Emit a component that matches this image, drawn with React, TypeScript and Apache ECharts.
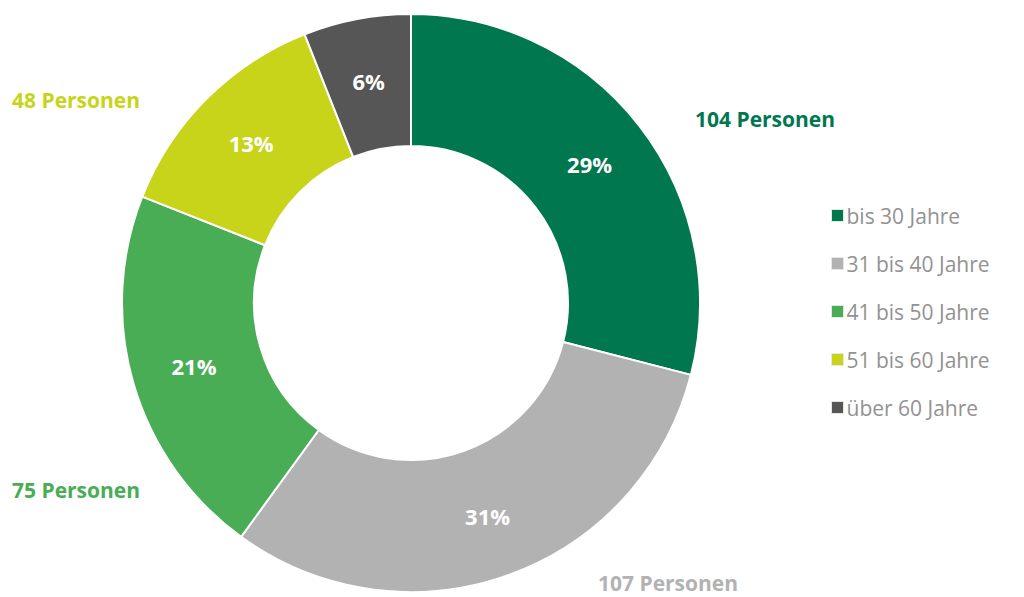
import React, { useEffect, useRef } from "react";
import * as echarts from "echarts";

const categories = ["bis 30 Jahre", "31 bis 40 Jahre", "41 bis 50 Jahre", "51 bis 60 Jahre", "über 60 Jahre"];
const percentValues = [29, 31, 21, 13, 6];
const personCounts = [104, 107, 75, 48, null];
const colors = ["#00774f", "#b2b2b2", "#48ad55", "#c8d41a", "#575656"];
const outsideLabelPos: ([number, number] | null)[] = [
  [695, 119],
  [598, 583],
  [12, 490],
  [12, 100],
  null,
];

export default function App() {
  const ref = useRef<HTMLDivElement>(null);
  useEffect(() => {
    if (!ref.current) return;
    const chart = echarts.init(ref.current, undefined, { renderer: "svg" });
    const font = "'Open Sans', 'Noto Sans', sans-serif";
    const data = categories.map((name, i) => ({
      name,
      value: percentValues[i],
      itemStyle: { color: colors[i] },
    }));
    const outerData = categories.map((name, i) => ({
      name,
      value: percentValues[i],
      itemStyle: { color: "rgba(0,0,0,0)", borderWidth: 0 },
      label: {
        show: personCounts[i] != null,
        color: colors[i],
        formatter: personCounts[i] != null ? `${personCounts[i]} Personen` : "",
      },
    }));
    chart.setOption({
      animation: false,
      backgroundColor: "#ffffff",
      legend: {
        orient: "vertical",
        left: 826,
        top: 200,
        icon: "rect",
        itemWidth: 12,
        itemHeight: 12,
        itemGap: 27,
        data: categories,
        itemStyle: { borderColor: "#e6e6e6", borderWidth: 1 },
        textStyle: {
          color: "#929292",
          fontSize: 21,
          lineHeight: 20,
          fontFamily: font,
          padding: [0, 0, 0, -2],
        },
      },
      series: [
        {
          type: "pie",
          center: [411, 303],
          radius: [157, 289],
          startAngle: 90,
          clockwise: true,
          itemStyle: { borderColor: "#ffffff", borderWidth: 2 },
          label: {
            show: true,
            position: "inside",
            formatter: "{c}%",
            color: "#ffffff",
            fontSize: 22,
            fontWeight: "bold",
            fontFamily: font,
          },
          labelLine: { show: false },
          emphasis: { disabled: true },
          data,
        },
        {
          type: "pie",
          center: [411, 303],
          radius: [157, 289],
          startAngle: 90,
          clockwise: true,
          silent: true,
          legendHoverLink: false,
          label: {
            show: true,
            position: "outside",
            fontSize: 21,
            fontWeight: "bold",
            fontFamily: font,
            overflow: "none",
            width: 300,
          },
          labelLine: { show: false },
          labelLayout: (params: any) => {
            const p = outsideLabelPos[params.dataIndex];
            if (!p) return {};
            return { x: p[0], y: p[1], align: "left", verticalAlign: "middle" };
          },
          emphasis: { disabled: true },
          data: outerData,
        },
      ],
    });
    return () => chart.dispose();
  }, []);
  return (
    <div
      ref={ref}
      style={{ position: "fixed", left: 0, top: 0, width: 1024, height: 597 }}
    />
  );
}
